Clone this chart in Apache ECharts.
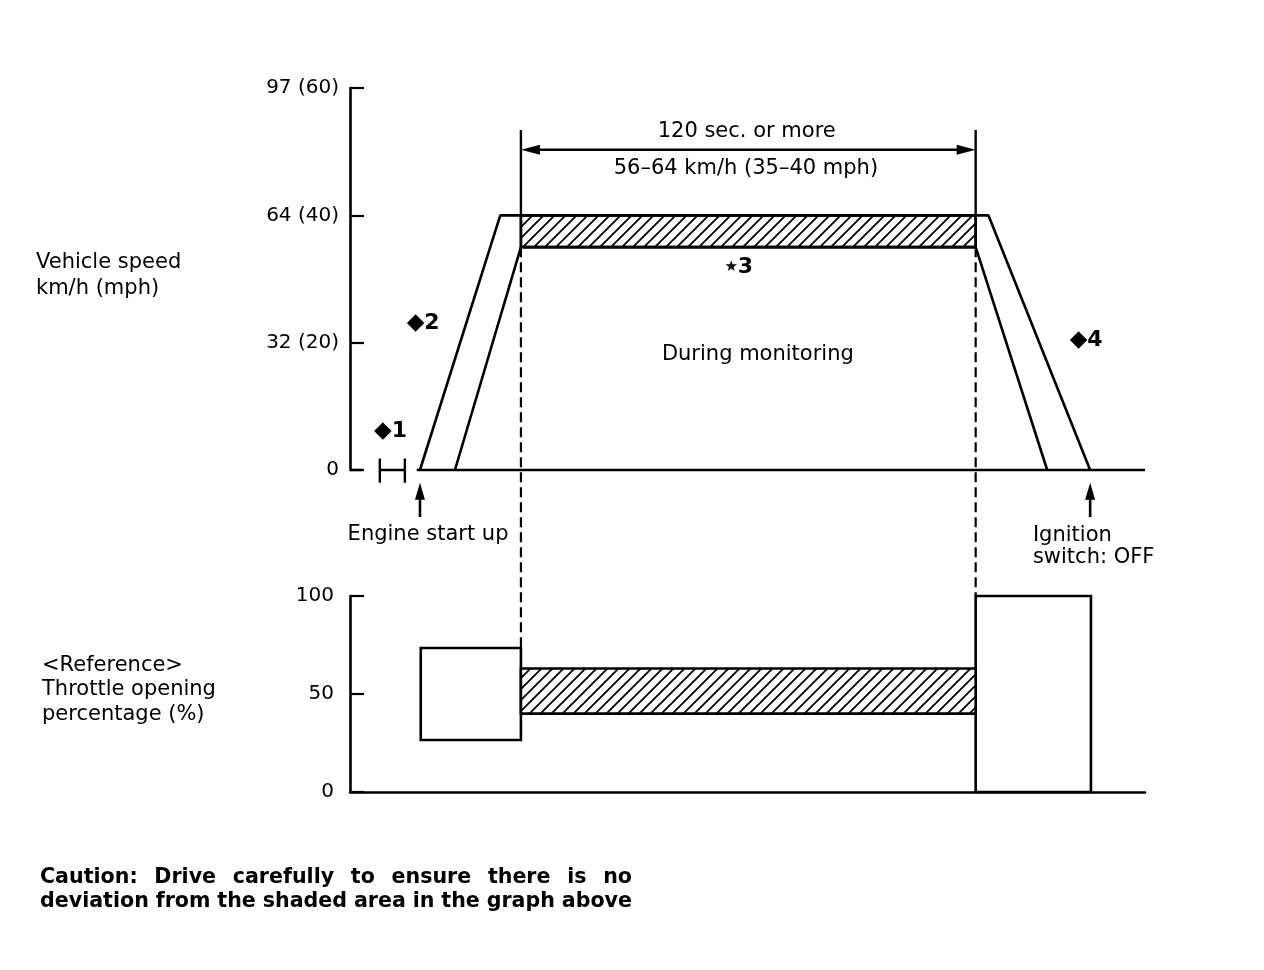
<!DOCTYPE html>
<html>
<head>
<meta charset="utf-8">
<script src="https://cdn.jsdelivr.net/npm/echarts@6/dist/echarts.min.js"></script>
<style>
  html, body { margin: 0; padding: 0; background: #fff; }
  #main { width: 1264px; height: 970px; }
</style>
</head>
<body>
<div id="main"></div>
<script>
// speed axis is evenly spaced in mph, labelled in km/h (mph)
const speedTicksMph = [0, 20, 40, 60];
const speedTickLabels = ['0', '32 (20)', '64 (40)', '97 (60)'];
const throttleTicks = [0, 50, 100];

// time runs on a relative 0..100 scale (the diagram has no time scale)
const monitorStart = 21.5;
const monitorEnd = 78.7;
const engineStart = 8.8;
const ignitionOff = 93.1;

// vehicle speed traces [t, mph]
const outerSpeedTrace = [[8.8, 0], [18.9, 40], [80.3, 40], [93.1, 0]];
const innerSpeedTrace = [[13.2, 0], [21.5, 35], [78.7, 35], [87.7, 0]];
// shaded speed window [t0, t1, low, high] mph
const speedBand = [[21.5, 78.7, 35, 40]];
// baseline with the gap around the ◆1 idle bracket
const speedBaseline = [[0, 0], [1.6, 0], [2, '-'], [3.75, 0], [6.9, 0], [7, '-'], [8.4, 0], [100, 0]];
const idleBracket = [3.75, 6.9];

// throttle opening [t0, t1, low, high] %
const throttleBoxes = [[8.9, 21.5, 26.5, 73.5], [78.7, 93.2, 0, 100]];
const throttleBand = [[21.5, 78.7, 40, 63]];

const FONT = '"DejaVu Sans", "Liberation Sans", Arial, sans-serif';

// diagonal hatch pattern
const hatch = document.createElement('canvas');
hatch.width = 11; hatch.height = 11;
(function () {
    const c = hatch.getContext('2d');
    c.fillStyle = '#fff';
    c.fillRect(0, 0, 11, 11);
    c.strokeStyle = '#000';
    c.lineWidth = 1.8;
    c.beginPath();
    c.moveTo(-1, 12); c.lineTo(12, -1);
    c.moveTo(-6, 6); c.lineTo(6, -6);
    c.moveTo(5, 17); c.lineTo(17, 5);
    c.stroke();
})();
const hatchFill = { image: hatch, repeat: 'repeat' };

function boxRenderer(fill) {
    return function (params, api) {
        const a = api.coord([api.value(0), api.value(3)]);
        const b = api.coord([api.value(1), api.value(2)]);
        return {
            type: 'rect',
            shape: { x: a[0], y: a[1], width: b[0] - a[0], height: b[1] - a[1] },
            style: { fill: fill, stroke: '#000', lineWidth: 2.6 }
        };
    };
}

const chart = echarts.init(document.getElementById('main'), null, { renderer: 'canvas' });

const blackLine = { color: '#000', width: 2.6 };
const option = {
    backgroundColor: '#fff',
    animation: false,
    grid: [
        { left: 350, width: 795, top: 88, height: 382 },
        { left: 350, width: 795, top: 596, height: 196 }
    ],
    xAxis: [
        { gridIndex: 0, type: 'value', min: 0, max: 100, show: false },
        {
            gridIndex: 1, type: 'value', min: 0, max: 100,
            axisLine: { lineStyle: blackLine }, axisTick: { show: false },
            axisLabel: { show: false }, splitLine: { show: false }
        }
    ],
    yAxis: [
        {
            gridIndex: 0, type: 'value', min: 0, max: 60, interval: 20,
            axisLine: { show: true, lineStyle: blackLine },
            axisTick: { show: true, inside: true, length: 14, lineStyle: { color: '#000', width: 2.2 } },
            axisLabel: {
                margin: 11, color: '#000', fontSize: 20, fontFamily: FONT,
                formatter: v => speedTickLabels[speedTicksMph.indexOf(v)]
            },
            splitLine: { show: false }
        },
        {
            gridIndex: 1, type: 'value', min: 0, max: 100, interval: 50,
            axisLine: { show: true, lineStyle: blackLine },
            axisTick: { show: true, inside: true, length: 14, lineStyle: { color: '#000', width: 2.2 } },
            axisLabel: {
                margin: 16, color: '#000', fontSize: 20, fontFamily: FONT,
                formatter: v => throttleTicks.indexOf(v) >= 0 ? String(v) : ''
            },
            splitLine: { show: false }
        }
    ],
    series: [
        {
            type: 'line', xAxisIndex: 0, yAxisIndex: 0, data: speedBaseline,
            showSymbol: false, clip: false, lineStyle: blackLine, silent: true
        },
        {
            type: 'custom', xAxisIndex: 0, yAxisIndex: 0, data: speedBand, clip: false,
            encode: { x: [0, 1], y: [2, 3] }, renderItem: boxRenderer(hatchFill)
        },
        {
            type: 'line', xAxisIndex: 0, yAxisIndex: 0, data: outerSpeedTrace,
            showSymbol: false, clip: false, lineStyle: blackLine
        },
        {
            type: 'line', xAxisIndex: 0, yAxisIndex: 0, data: innerSpeedTrace,
            showSymbol: false, clip: false, lineStyle: blackLine
        },
        {
            type: 'custom', xAxisIndex: 1, yAxisIndex: 1, data: throttleBoxes, clip: false,
            encode: { x: [0, 1], y: [2, 3] }, renderItem: boxRenderer('#fff')
        },
        {
            type: 'custom', xAxisIndex: 1, yAxisIndex: 1, data: throttleBand, clip: false,
            encode: { x: [0, 1], y: [2, 3] }, renderItem: boxRenderer(hatchFill)
        }
    ]
};
chart.setOption(option);

// annotations placed through the grid scales
const p = (t, v) => chart.convertToPixel({ gridIndex: 0 }, [t, v]);
const q = (t, v) => chart.convertToPixel({ gridIndex: 1 }, [t, v]);

function seg(a, b, dashed, w) {
    return {
        type: 'line', z: 10,
        shape: { x1: a[0], y1: a[1], x2: b[0], y2: b[1] },
        style: { stroke: '#000', lineWidth: w || 2.4, lineDash: dashed ? [10, 5] : null }
    };
}
function text(str, pt, opts) {
    return {
        type: 'text', z: 10, x: pt[0], y: pt[1],
        style: Object.assign({
            text: str, fill: '#000', font: '21px ' + FONT,
            align: 'left', verticalAlign: 'middle'
        }, opts || {})
    };
}
function upArrow(tip, tail) {
    return [
        seg([tip[0], tip[1] + 10], tail, false, 2.6),
        {
            type: 'polygon', z: 10,
            shape: { points: [[tip[0], tip[1]], [tip[0] - 5, tip[1] + 17], [tip[0] + 5, tip[1] + 17]] },
            style: { fill: '#000' }
        }
    ];
}
function labelRich(sym, num, pt, symSize) {
    return text('{s|' + sym + '}{n|' + num + '}', pt, {
        align: 'center',
        rich: {
            s: { fontSize: symSize, fontFamily: 'DejaVu Sans', fill: '#000' },
            n: { fontSize: 22, fontWeight: 'bold', fontFamily: FONT, fill: '#000' }
        }
    });
}

// justify a line of words to a given width
const measure = document.createElement('canvas').getContext('2d');
function justified(line, left, y, width, font) {
    measure.font = font;
    const words = line.split(' ');
    const used = words.reduce((s, w) => s + measure.measureText(w).width, 0);
    const gap = (width - used) / (words.length - 1);
    let x = left;
    return words.map(w => {
        const el = text(w, [x, y], { font: font });
        x += measure.measureText(w).width + gap;
        return el;
    });
}

const dimL = p(monitorStart, 50.3), dimR = p(monitorEnd, 50.3);
const g = [];
// extension lines and monitoring dimension arrow
g.push(seg(p(monitorStart, 53.4), p(monitorStart, 35)));
g.push(seg(p(monitorEnd, 53.4), p(monitorEnd, 35)));
g.push(seg([dimL[0] + 10, dimL[1]], [dimR[0] - 10, dimR[1]], false, 2.4));
g.push({ type: 'polygon', z: 10, shape: { points: [[dimL[0], dimL[1]], [dimL[0] + 19, dimL[1] - 5], [dimL[0] + 19, dimL[1] + 5]] }, style: { fill: '#000' } });
g.push({ type: 'polygon', z: 10, shape: { points: [[dimR[0], dimR[1]], [dimR[0] - 19, dimR[1] - 5], [dimR[0] - 19, dimR[1] + 5]] }, style: { fill: '#000' } });
// dashed connectors between the two graphs
g.push(seg(p(monitorStart, 35), q(monitorStart, throttleBoxes[0][3]), true, 2.2));
g.push(seg(p(monitorEnd, 35), q(monitorEnd, throttleBoxes[1][3]), true, 2.2));
// ◆1 idle bracket
g.push(seg(p(idleBracket[0], 1.8), p(idleBracket[0], -2), false, 2.4));
g.push(seg(p(idleBracket[1], 1.8), p(idleBracket[1], -2), false, 2.4));
// arrows for engine start / ignition off
g.push.apply(g, upArrow(p(engineStart, -2), p(engineStart, -7.4)));
g.push.apply(g, upArrow(p(ignitionOff, -2), p(ignitionOff, -7.4)));

g.push(text('120 sec. or more', p(49.9, 53.2), { align: 'center' }));
g.push(text('56–64 km/h (35–40 mph)', p(49.8, 47.3), { align: 'center' }));
g.push(text('During monitoring', p(51.3, 18.2), { align: 'center' }));
g.push(labelRich('★', '3', p(48.9, 31.8), 15));
g.push(labelRich('◆', '2', p(9.2, 23.1), 23));
g.push(labelRich('◆', '4', p(92.6, 20.4), 23));
g.push(labelRich('◆', '1', p(5.1, 6.1), 23));
g.push(text('Engine start up', p(-0.3, -10.2)));
g.push(text('Ignition\nswitch: OFF', p(85.9, -12), { lineHeight: 22 }));

// side titles and caution note
g.push(text('Vehicle speed\nkm/h (mph)', [36, 276], { lineHeight: 26 }));
g.push(text('<Reference>\nThrottle opening\npercentage (%)', [42, 690], { lineHeight: 24.5 }));
const cautionFont = 'bold 20.6px ' + FONT;
g.push.apply(g, justified('Caution: Drive carefully to ensure there is no', 40, 878, 592, cautionFont));
g.push.apply(g, justified('deviation from the shaded area in the graph above', 40, 902, 592, cautionFont));

chart.setOption({ graphic: g });
</script>
</body>
</html>
